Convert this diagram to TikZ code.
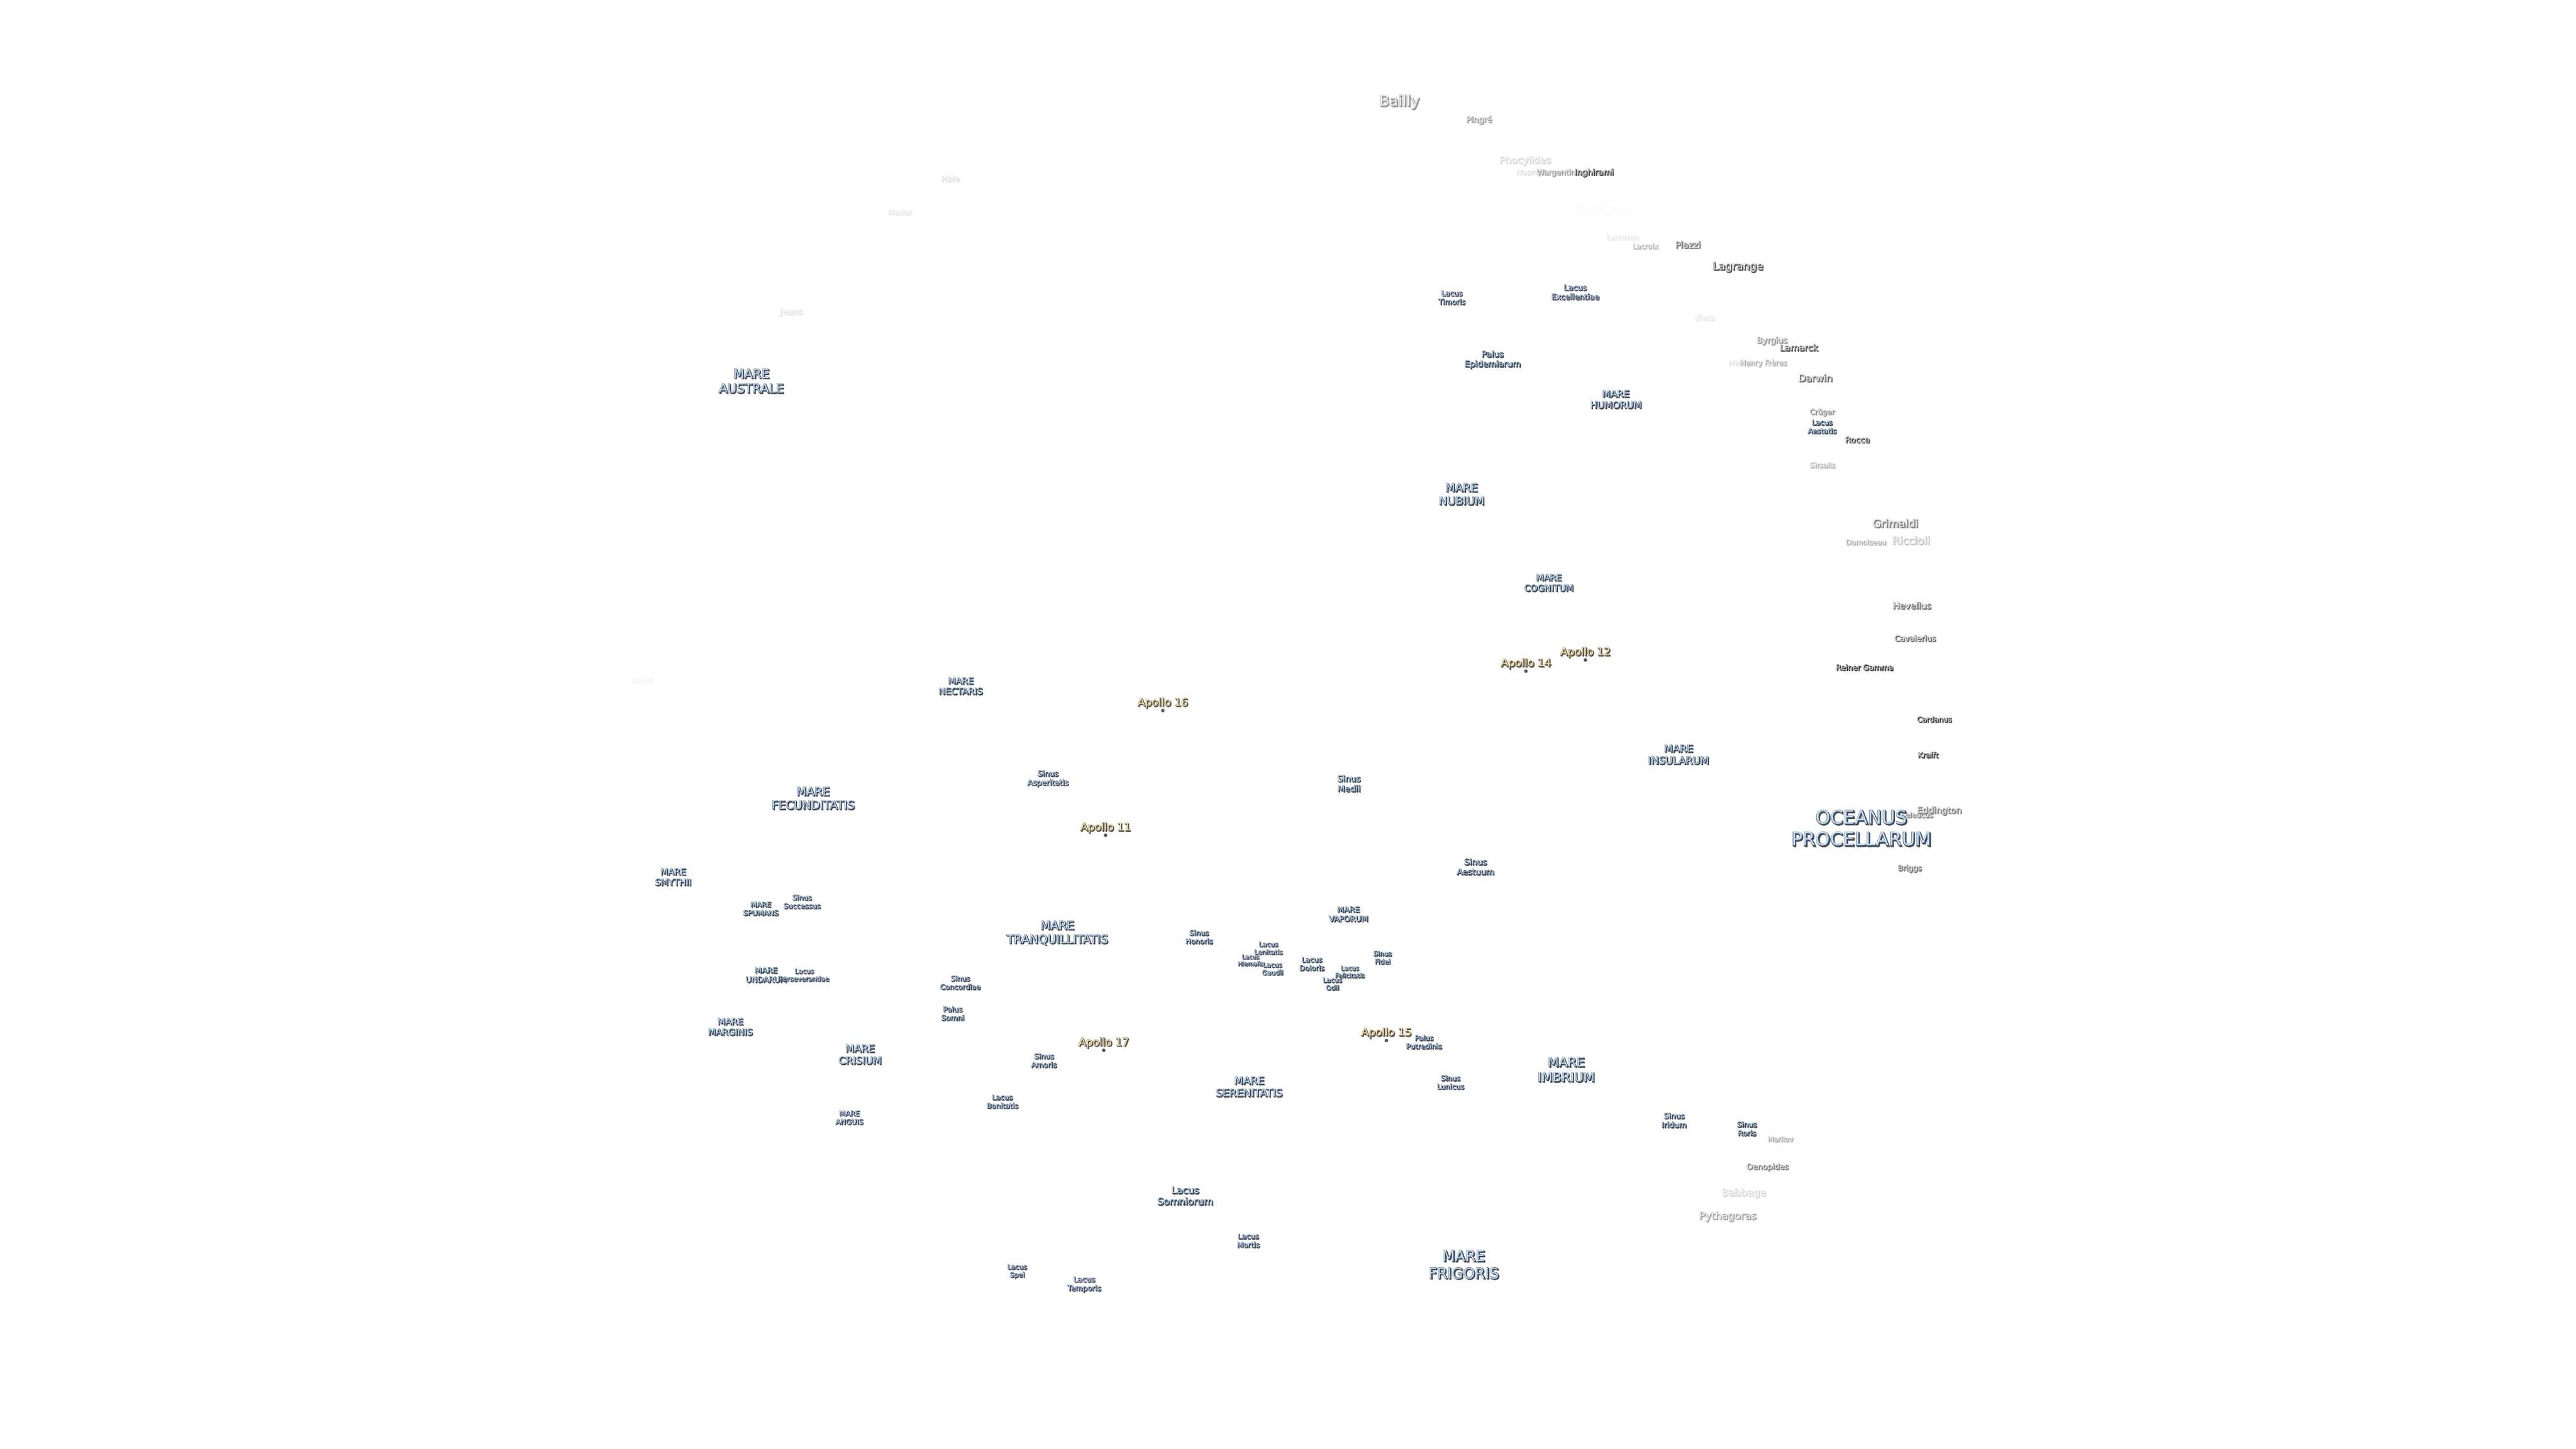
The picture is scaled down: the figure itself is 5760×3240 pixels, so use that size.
\documentclass[tikz,border=0pt]{standalone}
\usepackage{fontspec}
\setmainfont{DejaVu Sans}
\newfontfamily\edgefont[FakeBold=5]{DejaVu Sans}
\definecolor{mareface}{HTML}{C4DCF5}
\definecolor{mareedge}{HTML}{454E5B}
\definecolor{craterface}{HTML}{E8E8E8}
\definecolor{crateredge}{HTML}{444444}
\definecolor{siteface}{HTML}{FBE3B2}
\definecolor{siteedge}{HTML}{5C574B}
\tikzset{
	moonlabel/.style={inner sep=0pt,align=center},
	sitedot/.style={circle,fill=siteedge,inner sep=0pt,minimum size=2}
}
% one label: name, x, y, size in pt, face colour, edge colour, text
\newcommand{\placelabel}[7]{
	\pgfmathsetmacro\lskip{#4*1.17}
	\node[moonlabel,text=#6,font={\edgefont\fontsize{#4pt}{\lskip pt}\selectfont}] (#1shadow) at (#2+2,#3+2) {#7};
	\node[moonlabel,text=#6,font={\edgefont\fontsize{#4pt}{\lskip pt}\selectfont}] (#1edge) at (#2,#3) {#7};
	\node[moonlabel,text=#5,font={\fontsize{#4pt}{\lskip pt}\selectfont}] (#1) at (#2,#3) {#7};
}
\begin{document}
\begin{tikzpicture}[x=0.25pt,y=-0.25pt]
\useasboundingbox (0,0) rectangle (5760,3240);
% craters fade out towards the limb
\foreach \nm/\x/\y/\sz/\fd/\txt in {
	schorr/1435/1519/4/5/Schorr,
	hale/2125/399/4.6/15/Hale,
	wexler/2011/474/4/12/Wexler,
	jeans/1769/698/4.8/15/Jeans,
	bailly/3129/228/8.25/55/Bailly,
	pingre/3307/268/4.6/50/Pingré,
	phocylides/3410/359/5.4/20/Phocylides,
	nasmyth/3427/386/4.1/15/Nasmyth,
	wargentin/3479/386/4.25/50/Wargentin,
	inghirami/3564/386/4.6/95/Inghirami,
	schickard/3588/468/6.5/2/Schickard,
	lehmann/3628/530/3.9/12/Lehmann,
	lacroix/3679/550/4/35/Lacroix,
	piazzi/3774/547/5/70/Piazzi,
	lagrange/3886/597/6/85/Lagrange,
	vieta/3811/710/4.6/12/Vieta,
	byrgius/3962/762/4.6/50/Byrgius,
	lamarck/4022/777/5/85/Lamarck,
	henry/3890/812/4.1/15/Henry,
	henryfreres/3943/812/4.1/40/Henry Frères,
	darwin/4059/845/5.4/75/Darwin,
	cruger/4074/922/4.1/55/Crüger,
	rocca/4153/983/4.6/95/Rocca,
	sirsalis/4075/1040/4/35/Sirsalis,
	grimaldi/4238/1170/6/65/Grimaldi,
	riccioli/4273/1208/6/30/Riccioli,
	damoiseau/4172/1212/4/40/Damoiseau,
	hevelius/4275/1354/5/70/Hevelius,
	cavalerius/4282/1427/4.4/75/Cavalerius,
	reiner/4169/1492/4.3/100/Reiner Gamma,
	cardanus/4325/1608/4.1/100/Cardanus,
	krafft/4311/1688/4.1/100/Krafft,
	seleucus/4286/1822/4/60/Seleucus,
	eddington/4336/1813/4.9/65/Eddington,
	briggs/4270/1942/4.2/70/Briggs,
	markov/3981/2547/3.9/45/Markov,
	oenopides/3952/2610/4.4/60/Oenopides,
	babbage/3899/2668/5.6/20/Babbage,
	pythagoras/3863/2720/5.7/45/Pythagoras}
	\placelabel{\nm}{\x}{\y}{\sz}{craterface!\fd!white}{crateredge!\fd!white}{\txt};
% maria, lakes and bays
\foreach \nm/\x/\y/\sz/\txt in {
	australe/1680/852/7/{MARE\\AUSTRALE},
	nectaris/2148/1534/5/{MARE\\NECTARIS},
	fecunditatis/1818/1785/6.5/{MARE\\FECUNDITATIS},
	smythii/1505/1961/5/{MARE\\SMYTHII},
	spumans/1701/2032/4/{MARE\\SPUMANS},
	successus/1793/2016/4/{Sinus\\Successus},
	undarum/1713/2180/4.4/{MARE\\UNDARUM},
	perseverantiae/1798/2180/3.7/{Lacus\\Perseverantiae},
	marginis/1633/2296/5/{MARE\\MARGINIS},
	crisium/1923/2358/5.7/{MARE\\CRISIUM},
	anguis/1899/2499/4/{MARE\\ANGUIS},
	asperitatis/2343/1741/4.3/{Sinus\\Asperitatis},
	concordiae/2147/2197/4/{Sinus\\Concordiae},
	somni/2130/2266/4.1/{Palus\\Somni},
	amoris/2334/2371/4.1/{Sinus\\Amoris},
	bonitatis/2241/2463/4/{Lacus\\Bonitatis},
	tranquillitatis/2364/2086/6.6/{MARE\\TRANQUILLITATIS},
	serenitatis/2793/2430/5.9/{MARE\\SERENITATIS},
	somniorum/2650/2674/5.4/{Lacus\\Somniorum},
	mortis/2791/2774/4.1/{Lacus\\Mortis},
	spei/2274/2843/3.8/{Lacus\\Spei},
	temporis/2424/2872/4.2/{Lacus\\Temporis},
	frigoris/3273/2828/8.3/{MARE\\FRIGORIS},
	honoris/2681/2095/4/{Sinus\\Honoris},
	lenitatis/2836/2120/3.7/{Lacus\\Lenitatis},
	hiemalis/2796/2147/3.3/{Lacus\\Hiemalis},
	gaudii/2845/2166/3.7/{Lacus\\Gaudii},
	doloris/2933/2155/4/{Lacus\\Doloris},
	felicitatis/3018/2173/3.5/{Lacus\\Felicitatis},
	odii/2979/2200/3.7/{Lacus\\Odii},
	fidei/3091/2141/3.8/{Sinus\\Fidei},
	vaporum/3015/2044/4.4/{MARE\\VAPORUM},
	medii/3016/1752/4.8/{Sinus\\Medii},
	aestuum/3299/1938/4.7/{Sinus\\Aestuum},
	putredinis/3184/2330/4/{Palus\\Putredinis},
	lunicus/3243/2420/4/{Sinus\\Lunicus},
	imbrium/3502/2392/7.2/{MARE\\IMBRIUM},
	iridum/3743/2505/4.3/{Sinus\\Iridum},
	roris/3906/2524/4.1/{Sinus\\Roris},
	timoris/3246/665/4.1/{Lacus\\Timoris},
	excellentiae/3522/653/4.4/{Lacus\\Excellentiae},
	epidemiarum/3337/804/4.7/{Palus\\Epidemiarum},
	humorum/3613/893/5.3/{MARE\\HUMORUM},
	aestatis/4074/954/4/{Lacus\\Aestatis},
	nubium/3268/1105/6.3/{MARE\\NUBIUM},
	cognitum/3463/1303/5/{MARE\\COGNITUM},
	insularum/3753/1687/5.7/{MARE\\INSULARUM},
	procellarum/4162/1852/10.4/{OCEANUS\\PROCELLARUM}}
	\placelabel{\nm}{\x}{\y}{\sz}{mareface}{mareedge}{\txt};
% landing sites
\foreach \nm/\x/\y/\txt in {
	apollo11/2472/1851/Apollo 11,
	apollo12/3545/1459/Apollo 12,
	apollo14/3412/1484/Apollo 14,
	apollo15/3100/2310/Apollo 15,
	apollo16/2600/1572/Apollo 16,
	apollo17/2468/2332/Apollo 17}{
	\placelabel{\nm}{\x}{\y}{6}{siteface}{siteedge}{\txt};
	\node[sitedot] (\nm dot) at (\x,\y+17) {};
}
\end{tikzpicture}
\end{document}
